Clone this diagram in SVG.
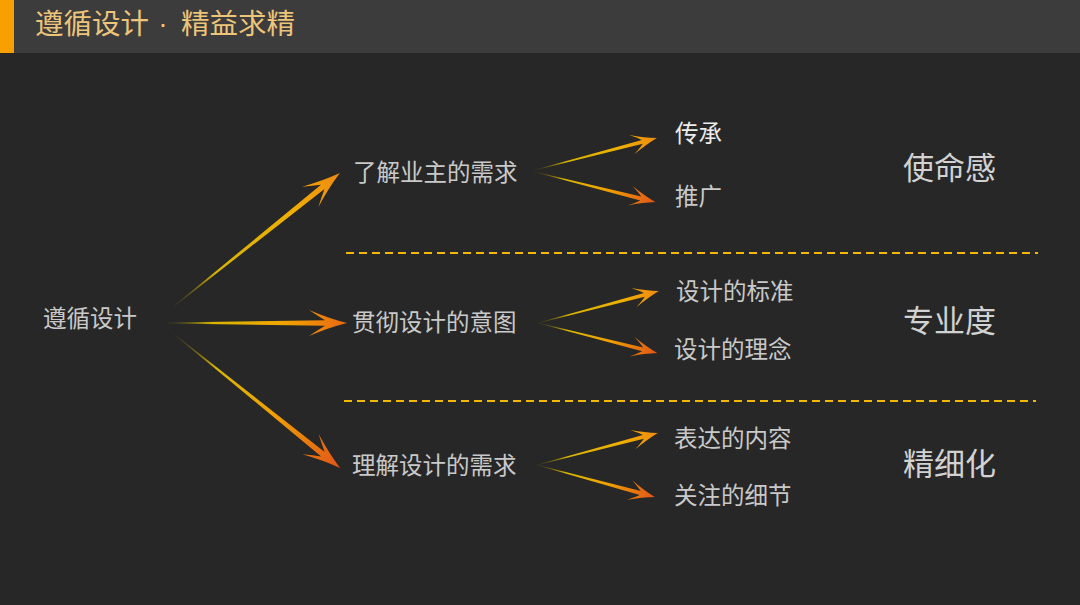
<svg xmlns="http://www.w3.org/2000/svg" width="1080" height="605" viewBox="0 0 1080 605">
<style>
.t{font-family:"Noto Sans CJK SC","Noto Sans",sans-serif;fill:#c9c9c9;font-size:23.5px}
.hi{fill:#ececec}
.big{font-size:31px;fill:#d2d2d2}
.title{font-family:"Noto Sans CJK SC","Noto Sans",sans-serif;fill:#ecc57a;font-size:28.5px}
.dot{font-family:"Liberation Sans",sans-serif;fill:#ecc57a;font-size:28px}
.dash{stroke:#f3b800;stroke-width:2.2;stroke-dasharray:8 5;fill:none}
</style>
<defs>
<linearGradient id="gUp" x1="0" y1="0" x2="1" y2="0">
<stop offset="0" stop-color="#7a6a10" stop-opacity="0.15"/>
<stop offset="0.25" stop-color="#d6b400"/>
<stop offset="0.7" stop-color="#efb000"/>
<stop offset="1" stop-color="#f08a10"/>
</linearGradient>
<linearGradient id="gMid" x1="0" y1="0" x2="1" y2="0">
<stop offset="0" stop-color="#7a6a10" stop-opacity="0.15"/>
<stop offset="0.25" stop-color="#d8b600"/>
<stop offset="0.65" stop-color="#f0a400"/>
<stop offset="1" stop-color="#ea6814"/>
</linearGradient>
<linearGradient id="gDown" x1="0" y1="0" x2="1" y2="0">
<stop offset="0" stop-color="#7a6a10" stop-opacity="0.15"/>
<stop offset="0.25" stop-color="#d8b800"/>
<stop offset="0.6" stop-color="#f0a000"/>
<stop offset="1" stop-color="#e2561a"/>
</linearGradient>
</defs>
<rect x="0" y="0" width="1080" height="605" fill="#272727"/>
<g id="header">
<rect x="0" y="0" width="1080" height="53" fill="#3c3c3c"/>
<rect x="0" y="0" width="14" height="53" fill="#f7a000"/>
<text class="title" x="35" y="34">遵循设计</text>
<text class="dot" x="163" y="33" text-anchor="middle">·</text>
<text class="title" x="181" y="34">精益求精</text>
</g>
<g id="dividers">
<line class="dash" x1="346" y1="253" x2="1038" y2="253"/>
<line class="dash" x1="344" y1="401" x2="1036" y2="401"/>
</g>
<g id="connectors">
<path transform="translate(173,307) rotate(-38.75)" fill="url(#gUp)" d="M0,-0.4 L192,-2.8 Q185,-7 176,-13 Q196,-4.5 214,0 Q196,4.5 176,13 Q185,7 192,2.8 L0,0.4 Z"/>
<path transform="translate(168,323)" fill="url(#gMid)" d="M0,-0.4 L157,-2.8 Q150,-7 141,-13 Q161,-4.5 179,0 Q161,4.5 141,13 Q150,7 157,2.8 L0,0.4 Z"/>
<path transform="translate(175,335) rotate(38.87)" fill="url(#gDown)" d="M0,-0.4 L190,-2.8 Q183,-7 174,-13 Q194,-4.5 212,0 Q194,4.5 174,13 Q183,7 190,2.8 L0,0.4 Z"/>
<path transform="translate(535,170) rotate(-14.7)" fill="url(#gUp)" d="M0,-0.3 L111,-2 Q107,-5.5 100,-10 Q114,-3.5 126,0 Q114,3.5 100,10 Q107,5.5 111,2 L0,0.3 Z"/>
<path transform="translate(535,172) rotate(14.04)" fill="url(#gDown)" d="M0,-0.3 L109,-2 Q105,-5.5 98,-10 Q112,-3.5 124,0 Q112,3.5 98,10 Q105,5.5 109,2 L0,0.3 Z"/>
<path transform="translate(538,323) rotate(-14.81)" fill="url(#gUp)" d="M0,-0.3 L110,-2 Q106,-5.5 99,-10 Q113,-3.5 125,0 Q113,3.5 99,10 Q106,5.5 110,2 L0,0.3 Z"/>
<path transform="translate(538,323) rotate(14.15)" fill="url(#gDown)" d="M0,-0.3 L108,-2 Q104,-5.5 97,-10 Q111,-3.5 123,0 Q111,3.5 97,10 Q104,5.5 108,2 L0,0.3 Z"/>
<path transform="translate(537,465) rotate(-14.81)" fill="url(#gUp)" d="M0,-0.3 L110,-2 Q106,-5.5 99,-10 Q113,-3.5 125,0 Q113,3.5 99,10 Q106,5.5 110,2 L0,0.3 Z"/>
<path transform="translate(537,465) rotate(15.17)" fill="url(#gDown)" d="M0,-0.3 L107,-2 Q103,-5.5 96,-10 Q110,-3.5 122,0 Q110,3.5 96,10 Q103,5.5 107,2 L0,0.3 Z"/>
</g>
<g id="root"><text class="t" x="43" y="327">遵循设计</text></g>
<g id="n1"><text class="t" x="353" y="180.5">了解业主的需求</text></g>
<g id="n2"><text class="t" x="352" y="331">贯彻设计的意图</text></g>
<g id="n3"><text class="t" x="352" y="474">理解设计的需求</text></g>
<g id="n1a"><text class="t hi" x="675" y="142">传承</text></g>
<g id="n1b"><text class="t" x="675" y="205">推广</text></g>
<g id="n2a"><text class="t" x="676" y="300">设计的标准</text></g>
<g id="n2b"><text class="t" x="674" y="358">设计的理念</text></g>
<g id="n3a"><text class="t" x="674" y="446.5">表达的内容</text></g>
<g id="n3b"><text class="t" x="674" y="503.5">关注的细节</text></g>
<g id="c1"><text class="t big" x="903" y="179">使命感</text></g>
<g id="c2"><text class="t big" x="903" y="332">专业度</text></g>
<g id="c3"><text class="t big" x="903" y="475">精细化</text></g>
</svg>
